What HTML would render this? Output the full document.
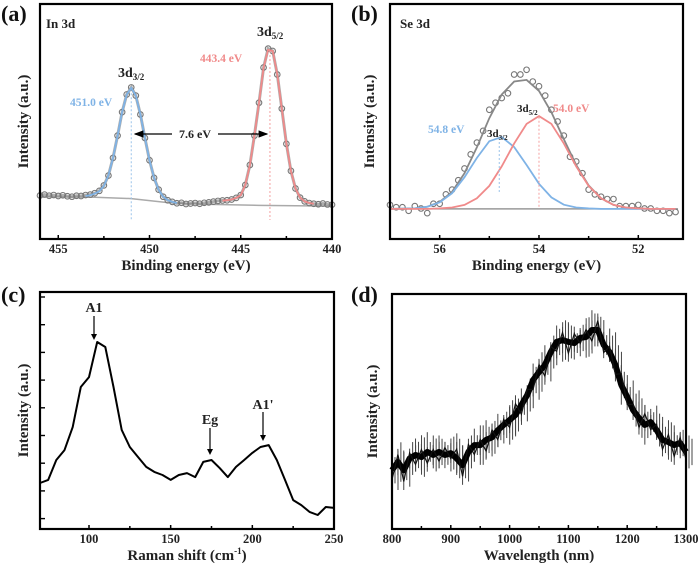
<!DOCTYPE html>
<html><head><meta charset="utf-8"><style>
body{margin:0;background:#fff}
svg{display:block;font-family:"Liberation Serif",serif;font-weight:bold}
</style></head><body>
<svg id="fig" width="700" height="566" viewBox="0 0 700 566" xmlns="http://www.w3.org/2000/svg">
<g id="root"></g>
</svg>
<script>
// Panel (a) In 3d XPS (x grid: 456 → 440 in 0.25 eV steps)
const aData=[18.5,18.9,18.4,18.7,18.3,18.6,18.2,18.0,18.4,18.3,18.7,18.9,19.5,20.5,22.8,27,34.5,44,54,61.5,64.5,61,53,43,33.5,26,21,18,16.5,15.8,15.2,15.4,14.9,15.1,15.3,15.0,15.4,15.6,15.9,16.2,16.4,16.5,16.8,17.5,18.7,23,31.5,44,58,73,81,80,70,55.5,40.5,29,21.5,17.6,16,15.3,15,14.8,15.1,14.7,14.6];
const aX=aData.map((v,i)=>456-0.25*i);
const aBgX=[456,453,451,449,447,444,440];
const aBg=[18,17.8,17.2,15.5,14.8,14.3,14];
const aBlueX=[453.5,453.25,453,452.75,452.5,452.25,452,451.75,451.5,451.25,451,450.75,450.5,450.25,450,449.75,449.5,449.25,449,448.75,448.5];
const aBlue=[18.3,18.6,19.3,20.3,22.6,27,34.5,44,54,61.5,64.3,61,53,43,33.5,26,21,18,16.5,15.8,15.3];
const aRedX=[446,445.75,445.5,445.25,445,444.75,444.5,444.25,444,443.75,443.5,443.25,443,442.75,442.5,442.25,442,441.75,441.5,441.25,441];
const aRed=[16.3,16.5,16.8,17.5,18.7,23,31.5,44,58,73,80.5,80,70,55.5,40.5,29,21.5,17.6,16,15.3,15];
const aTicks=[455,450,445,440];
const aMinor=[452.5,447.5,442.5];
// Panel (b) Se 3d XPS
const bX=[57,56.75,56.5,56.25,56,55.75,55.5,55.25,55,54.75,54.5,54.25,54,53.75,53.5,53.25,53,52.75,52.5,52.25,52,51.75,51.5,51.25];
const bBlue=[12.8,12.9,13.0,13.7,15.6,19.5,26.3,34.5,41.6,43.4,39.1,31.5,23.5,17.7,14.6,13.4,13.0,12.8,12.8,12.8,12.8,12.8,12.8,12.8];
const bRed=[12.8,12.8,12.8,12.8,13.0,13.4,14.5,17.3,22.6,30.9,40.7,49.0,52.3,49.0,40.7,30.9,22.6,17.3,14.5,13.4,13.0,12.8,12.8,12.8];
const bEnv=[12.8,12.9,13.0,13.7,15.8,20.1,28.0,39.0,51.4,61.5,67.0,67.7,63.0,53.9,42.5,31.5,22.8,17.3,14.5,13.4,13.0,12.8,12.8,12.8];
const bData=[14.5,13.5,14,11,15,21,30,41,55,60,70,72,65,55,44,33,21,18,17,14,14.5,13,12,11.5];
const bX2=[56.875,56.625,56.375,56.125,55.875,55.625,55.375,55.125,54.875,54.625,54.375,54.125,53.875,53.625,53.375,53.125,52.875,52.625,52.375,52.125,51.875,51.625,51.375];
const bData2=[13.5,12,13,15,19,25,36,46,58,62,70,67,61,50,35,28,19,17,14,14,13,12,11];
const bTicks=[56,54,52];
const bMinor=[55,53];
// Panel (c) Raman
const cX=[70,75,80,85,90,95,100,105,110,115,120,125,130,135,140,145,150,155,160,165,170,175,180,185,190,195,200,205,210,215,220,225,230,235,240,245,250];
const cY=[19.4,20.7,29.1,33.3,43.0,59.9,64.1,78.9,76.8,59.9,41.8,34.6,30.4,26.2,24.1,22.8,20.7,22.8,23.6,21.9,28.3,29.1,25.7,21.9,26.2,29.1,32.1,34.6,35.4,29.1,20.7,12.2,10.1,7.2,5.9,9.3,8.9];
const cTicks=[100,150,200,250];
const cMinor=[125,175,225];
// Panel (d) PL
const dX=[800,810,820,830,840,850,860,870,880,890,900,910,920,930,940,950,960,970,980,990,1000,1010,1020,1030,1040,1050,1060,1070,1080,1090,1100,1110,1120,1130,1140,1150,1160,1170,1180,1190,1200,1210,1220,1230,1240,1250,1260,1270,1280,1290,1300];
const dY=[25,28.5,25,30,31.5,30.6,32.8,31.5,32.8,31.5,32.3,30,27.2,32.8,35.7,35.7,37.9,39,42,44.3,46.4,48.5,52.8,57,63.4,66.8,69.8,75.3,79.6,80.4,79.6,79.1,81.3,81.7,84.7,84.7,78.3,75.3,69.8,61.3,56.2,50.6,47.2,44.3,45.5,42.1,37.9,37,35.7,36.6,32.8];
const dNoise=[5,4,6,3,5,4,6,3,5,4,3,5,6,4,5,3,6,4,5,3,4,6,5,3,5,4,6,3,5,4,6,5,3,4,6,5,4,3,5,6,4,3,5,6,4,3,5,4,6,3,4];
const dTicks=[800,900,1000,1100,1200,1300];
const dMinor=[850,950,1050,1150,1250];

const NS="http://www.w3.org/2000/svg";
const root=document.getElementById('root');
function mk(tag,attrs,parent,text){const e=document.createElementNS(NS,tag);for(const k in attrs)e.setAttribute(k,attrs[k]);if(text!==undefined)e.textContent=text;(parent||root).appendChild(e);return e;}
function panel(name,x0,x1,y0,y1,xmin,xmax){
  const g=mk('g',{});
  
  
  const sx=v=>x0+(v-xmin)/(xmax-xmin)*(x1-x0);
  const sy=v=>y1-v/100*(y1-y0);
  return {g,sx,sy,x0,x1,y0,y1};
}
function frame(p){
  const r=mk('rect',{x:p.x0,y:p.y0,width:p.x1-p.x0,height:p.y1-p.y0,fill:'none',stroke:'#000','stroke-width':2.2},p.g);
  
  
}
function ticks(p,maj,min){
  maj.forEach(t=>{const x=p.sx(t);
    const l=mk('line',{x1:x,x2:x,y1:p.y1,y2:p.y1-4,stroke:'#000','stroke-width':1.5},p.g);
    
    
    const tx=mk('text',{x:x,y:p.y1+14,'text-anchor':'middle','font-size':12.5,fill:'#222'},p.g,String(t));
    
    });
  min.forEach(t=>{const x=p.sx(t);
    const l=mk('line',{x1:x,x2:x,y1:p.y1,y2:p.y1-3,stroke:'#000','stroke-width':1.5},p.g);
    
    });
}
function titles(p,xt,ytx,lab,labx,laby){
  if(xt){const t=mk('text',{x:(p.x0+p.x1)/2,y:p.y1+31,'text-anchor':'middle','font-size':15,fill:'#222'},p.g,xt);
  
  }
  const cy=(p.y0+p.y1)/2;
  const y=mk('text',{x:ytx,y:cy,'text-anchor':'middle','font-size':15,fill:'#222',transform:`rotate(-90 ${ytx} ${cy})`},p.g,'Intensity (a.u.)');
  
  
  const pl=mk('text',{x:labx,y:laby,'font-size':22,fill:'#111'},p.g,lab);
  
  
}
function path(p,xs,ys,attrs,name){
  const d=xs.map((x,i)=>(i?'L':'M')+p.sx(x).toFixed(1)+','+p.sy(ys[i]).toFixed(1)).join('');
  const e=mk('path',Object.assign({d:d,fill:'none'},attrs),p.g);
  
  
  return e;
}
function circles(p,xs,ys,name){
  xs.forEach((x,i)=>{const c=mk('circle',{cx:p.sx(x),cy:p.sy(ys[i]),r:2.8,fill:'none',stroke:'#777','stroke-width':1.1},p.g);
    
    });
}
function txt(p,x,y,s,attrs,name){const e=mk('text',Object.assign({x:x,y:y,fill:'#222'},attrs),p.g);e.innerHTML=s;
  
  return e;}

// (a)
const A=panel('panel-a-in3d',40,332,4,239,456,440);
path(A,aBgX,aBg,{stroke:'#aaa','stroke-width':1.5},'background-line');
path(A,aX,aData,{stroke:'#8a8a8a','stroke-width':3,'stroke-opacity':0.7},'data-trace');
circles(A,aX,aData,'data-point');
path(A,aBlueX,aBlue,{stroke:'#7fb3e6','stroke-width':1.8},'fit-3d3-2');
path(A,aRedX,aRed,{stroke:'#f08a8a','stroke-width':1.8},'fit-3d5-2');
mk('line',{x1:A.sx(451),x2:A.sx(451),y1:A.sy(62),y2:220,stroke:'#9cc4ea','stroke-dasharray':'2,2'},A.g);
mk('line',{x1:A.sx(443.4),x2:A.sx(443.4),y1:A.sy(80),y2:220,stroke:'#f4a0a0','stroke-dasharray':'2,2'},A.g);
mk('defs',{},A.g).innerHTML='<marker id="ar" markerWidth="8" markerHeight="8" refX="7" refY="4" orient="auto"><path d="M0,1L8,4L0,7z" fill="#000"/></marker>';
const arr1=mk('line',{x1:172,x2:135,y1:134,y2:134,stroke:'#000','stroke-width':1.2,'marker-end':'url(#ar)'},A.g);


const arr2=mk('line',{x1:218,x2:267,y1:134,y2:134,stroke:'#000','stroke-width':1.2,'marker-end':'url(#ar)'},A.g);


txt(A,195,138,'7.6 eV',{'font-size':12,'text-anchor':'middle'},'split-label');
txt(A,46,28,'In 3d',{'font-size':13},'element-label');
txt(A,118,77,'3d<tspan font-size="9" dy="3">3/2</tspan>',{'font-size':14},'peak-label');
txt(A,70,106,'451.0 eV',{'font-size':11.5,fill:'#7fb3e6'},'peak-energy');
txt(A,257,36,'3d<tspan font-size="9" dy="3">5/2</tspan>',{'font-size':14},'peak-label');
txt(A,200,62,'443.4 eV',{'font-size':11.5,fill:'#f08a8a'},'peak-energy');
frame(A);ticks(A,aTicks,aMinor);titles(A,'Binding energy (eV)',28,'(a)',1,21);

// (b)
const B=panel('panel-b-se3d',390,683,4,239,57,51.1);
mk('line',{x1:B.sx(56.9),x2:B.sx(51.2),y1:B.sy(12.8),y2:B.sy(12.8),stroke:'#999','stroke-width':1.5},B.g);
circles(B,bX,bData,'data-point');
circles(B,bX2,bData2,'data-point');
path(B,bX,bEnv,{stroke:'#888','stroke-width':1.8},'envelope-fit');
path(B,bX,bBlue,{stroke:'#7fb3e6','stroke-width':1.8},'fit-3d3-2');
path(B,bX,bRed,{stroke:'#f08a8a','stroke-width':1.8},'fit-3d5-2');
mk('line',{x1:B.sx(54.8),x2:B.sx(54.8),y1:B.sy(43),y2:B.sy(20),stroke:'#9cc4ea','stroke-dasharray':'2,2'},B.g);
mk('line',{x1:B.sx(54),x2:B.sx(54),y1:B.sy(52),y2:B.sy(12.8),stroke:'#f4a0a0','stroke-dasharray':'2,2'},B.g);
txt(B,400,28,'Se 3d',{'font-size':13},'element-label');
txt(B,428,133,'54.8 eV',{'font-size':11.5,fill:'#7fb3e6'},'peak-energy');
txt(B,487,137,'3d<tspan font-size="7" dy="3">3/2</tspan>',{'font-size':11},'peak-label');
txt(B,517,112,'3d<tspan font-size="7" dy="3">5/2</tspan>',{'font-size':11},'peak-label');
txt(B,553,112,'54.0 eV',{'font-size':11.5,fill:'#f08a8a'},'peak-energy');
frame(B);ticks(B,bTicks,bMinor);titles(B,'Binding energy (eV)',374,'(b)',351,21);

// (c)
const C=panel('panel-c-raman',40,334,292,529,70,250);
path(C,cX,cY,{stroke:'#000','stroke-width':2,'stroke-linejoin':'round'},'raman-spectrum');
for(let i=0;i<9;i++){const y=297+i*27.7;const l=mk('line',{x1:40,x2:45,y1:y,y2:y,stroke:'#000','stroke-width':1.4},C.g);
  
  }
function arrow(p,x,y1,y2){const l=mk('line',{x1:x,x2:x,y1:y1,y2:y2-3,stroke:'#000','stroke-width':1.2},p.g);
  
  
  mk('path',{d:`M${x-3},${y2-6}L${x+3},${y2-6}L${x},${y2}z`,fill:'#000'},p.g);}
txt(C,94,312,'A1',{'font-size':14,'text-anchor':'middle'},'peak-label-a1');arrow(C,94,316,340);
txt(C,210,424,'Eg',{'font-size':14,'text-anchor':'middle'},'peak-label-eg');arrow(C,210,428,455);
txt(C,263,409,"A1'",{'font-size':14,'text-anchor':'middle'},'peak-label-a1-prime');arrow(C,263,412,441);
frame(C);ticks(C,cTicks,cMinor);
titles(C,'',28,'(c)',1,302);
txt(C,187,560,'Raman shift (cm<tspan font-size="9" dy="-6">-1</tspan><tspan dy="6">)</tspan>',{'font-size':15,'text-anchor':'middle'},'x-axis-title');

// (d)
const D=panel('panel-d-pl',392,686,294,529,800,1300);
dX.forEach((x,i)=>{[0,3,6].forEach((o,k)=>{const n=dNoise[(i+k)%dNoise.length]*1.4;
  const l=mk('line',{x1:D.sx(x)+o,x2:D.sx(x)+o,y1:D.sy(dY[i]+n),y2:D.sy(dY[i]-n),stroke:'#444','stroke-width':1},D.g);
  
  });});
path(D,dX,dY,{stroke:'#000','stroke-width':6,'stroke-linejoin':'round'},'pl-spectrum');
path(D,dX,dY.map((v,i)=>v+(i%2?dNoise[i]:-dNoise[i])*0.8),{stroke:'#111','stroke-width':1.2},'pl-noise');
frame(D);ticks(D,dTicks,dMinor);titles(D,'Wavelength (nm)',377,'(d)',351,302);
</script>
</body></html>
